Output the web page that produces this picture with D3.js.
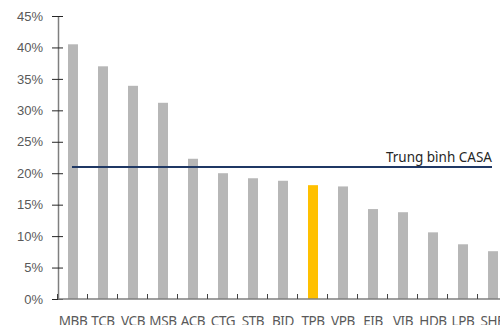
<!DOCTYPE html>
<html>
<head>
<meta charset="utf-8">
<script src="https://cdn.jsdelivr.net/npm/d3@7"></script>
<style>
  body { margin: 0; background: #fff; }
  svg { display: block; font-family: "Noto Sans", sans-serif; }
</style>
</head>
<body>
<div id="chart"></div>
<script>
//Bank tickers and CASA ratio (%)
const banks = ["MBB", "TCB", "VCB", "MSB", "ACB", "CTG", "STB", "BID", "TPB", "VPB", "EIB", "VIB", "HDB", "LPB", "SHB"];
const casa = [40.5, 37.0, 33.9, 31.2, 22.3, 20.0, 19.2, 18.8, 18.1, 17.9, 14.3, 13.8, 10.6, 8.7, 7.6];
const highlight = "TPB";
const average = 21.0;
const yTicks = [0, 5, 10, 15, 20, 25, 30, 35, 40, 45];
const avgLabel = "Trung bình CASA";

//Page options
const W = 500, H = 325;
const PLOT_LEFT = 58, PLOT_TOP = 16, PLOT_BOTTOM = 299;
const BAR_COLOR = "#b7b7b7";
const HL_COLOR = "#ffc000";
const AVG_COLOR = "#1f3864";

var svg = d3.select("#chart").append("svg")
	.attr("width", W)
	.attr("height", H);

//Scales
var x = d3.scaleBand()
	.domain(banks)
	.range([PLOT_LEFT, PLOT_LEFT + 30 * banks.length])
	.paddingInner(0.667)
	.paddingOuter(0.333);

var y = d3.scaleLinear()
	.domain([0, 45])
	.range([PLOT_BOTTOM, PLOT_TOP]);

//Bars
svg.selectAll("rect.bar")
	.data(banks)
	.enter().append("rect")
	.attr("class", "bar")
	.attr("x", d => x(d))
	.attr("width", x.bandwidth())
	.attr("y", (d, i) => y(casa[i]))
	.attr("height", (d, i) => PLOT_BOTTOM - y(casa[i]))
	.attr("fill", d => d == highlight ? HL_COLOR : BAR_COLOR);

//Y axis
var yAxis = svg.append("g")
	.attr("transform", "translate(" + PLOT_LEFT + ",0)")
	.call(d3.axisLeft(y).tickValues(yTicks).tickFormat(d => d + "%").tickSize(0).tickPadding(15));
yAxis.select(".domain").attr("stroke", "#7f7f7f").attr("stroke-width", 1.5);
yAxis.selectAll(".tick text").attr("fill", "#595959").style("font-size", "13px");
yAxis.selectAll(".tick").append("line")
	.attr("x1", -6).attr("x2", 5)
	.attr("stroke", "#262626");

//X axis
var xAxis = svg.append("g")
	.attr("transform", "translate(0," + PLOT_BOTTOM + ")");
xAxis.append("line")
	.attr("x1", PLOT_LEFT).attr("x2", W)
	.attr("stroke", "#7f7f7f").attr("stroke-width", 1.5);
xAxis.selectAll("line.tk")
	.data(banks)
	.enter().append("line")
	.attr("class", "tk")
	.attr("x1", d => x(d) - x.bandwidth() - 0.5)
	.attr("x2", d => x(d) - x.bandwidth() - 0.5)
	.attr("y1", 0).attr("y2", -5)
	.attr("stroke", "#404040");
xAxis.selectAll("text")
	.data(banks)
	.enter().append("text")
	.attr("x", d => x(d) + x.bandwidth() / 2)
	.attr("y", 26.5)
	.attr("text-anchor", "middle")
	.attr("fill", "#595959")
	.style("font-size", "13.5px")
	.style("letter-spacing", "-0.4px")
	.text(d => d);

//Average line
svg.append("line")
	.attr("x1", x(banks[0]) + 4)
	.attr("x2", 492)
	.attr("y1", y(average))
	.attr("y2", y(average))
	.attr("stroke", AVG_COLOR)
	.attr("stroke-width", 2);

svg.append("text")
	.attr("x", 492)
	.attr("y", y(average) - 4.5)
	.attr("text-anchor", "end")
	.attr("fill", "#262626")
	.style("font-size", "13.5px")
	.text(avgLabel);
</script>
</body>
</html>
